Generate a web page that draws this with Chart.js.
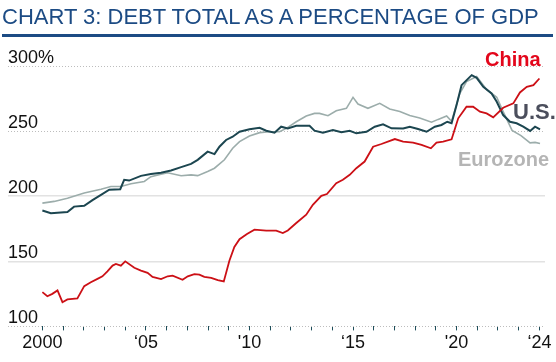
<!DOCTYPE html>
<html>
<head>
<meta charset="utf-8">
<script src="https://cdn.jsdelivr.net/npm/chart.js@4"></script>
<style>
  body { margin: 0; background: #fff; }
  #wrap { position: relative; width: 556px; height: 362px; font-family: "Liberation Sans", Arial, sans-serif; }
  #title { position: absolute; left: 2px; top: 6px; font-size: 22px; line-height: 22px; color: #1c4b84; white-space: nowrap; }
  #rule { position: absolute; left: 2px; top: 34px; width: 551px; height: 3px; background: #1c4b84; }
  canvas { position: absolute; left: 0; top: 0; }
  .lbl { position: absolute; font-weight: bold; white-space: nowrap; }
</style>
</head>
<body>
<div id="wrap">
  <canvas id="debtChart" width="556" height="362"></canvas>
  <div id="title">CHART 3: DEBT TOTAL AS A PERCENTAGE OF GDP</div>
  <div id="rule"></div>
  <div class="lbl" style="left:485px; top:49px; font-size:20px; line-height:20px; color:#e3061b;">China</div>
  <div class="lbl" style="left:513px; top:101px; font-size:22px; line-height:22px; color:#4b4e5c;">U.S.</div>
  <div class="lbl" style="left:458px; top:149px; font-size:20px; line-height:20px; color:#b5b5b5;">Eurozone</div>
</div>
<script>
// debt as % of GDP
const chinaYears = [2000, 2000.24, 2000.48, 2000.73, 2000.97, 2001.21, 2001.69, 2002.02, 2002.34, 2002.66,
  2002.9, 2003.14, 2003.39, 2003.55, 2003.79, 2004, 2004.44, 2004.76, 2005.08, 2005.32,
  2005.73, 2006.05, 2006.29, 2006.77, 2007.02, 2007.34, 2007.58, 2007.82, 2008.15, 2008.47,
  2008.76, 2009.03, 2009.27, 2009.52, 2009.88, 2010.24, 2010.81, 2011.29, 2011.61, 2011.85,
  2012.26, 2012.74, 2013.06, 2013.47, 2013.74, 2014.19, 2014.51, 2014.84, 2015.16, 2015.56,
  2015.97, 2016.37, 2017.02, 2017.42, 2017.9, 2018.31, 2018.76, 2019.03, 2019.35, 2019.76,
  2020.08, 2020.48, 2020.8, 2021.13, 2021.45, 2021.77, 2022.25, 2022.74, 2023.06, 2023.39,
  2023.71, 2024];
const chinaDebt = [126.3, 123.2, 125, 127.6, 118.6, 120.7, 121.5, 130.9, 133.9, 136.5,
  138.5, 142.3, 146.7, 148, 146.7, 150, 145, 142.9, 141.1, 138,
  136.3, 138.5, 139, 135.8, 138.5, 140.2, 139.8, 138, 137.3, 135.5,
  134.5, 150.5, 161, 167, 171, 174.3, 173.6, 173.5, 171.7, 173.7,
  179.4, 185.8, 193.4, 200.3, 201.7, 210, 212.6, 216.4, 221.5, 226.6,
  238, 240.1, 243.9, 241.9, 241.1, 239.4, 236.8, 241.1, 241.9, 243.7,
  259.8, 268.7, 268.7, 264.9, 263.6, 260.6, 267.9, 271.3, 279.7, 284,
  285.3, 290.4];

const usYears = [2000, 2000.41, 2001.21, 2001.53, 2002.02, 2002.42, 2002.83, 2003.23, 2003.76, 2003.95,
  2004.19, 2004.76, 2005.24, 2005.73, 2006.21, 2006.7, 2007.18, 2007.5, 2007.98, 2008.31,
  2008.55, 2008.87, 2009.19, 2009.52, 2010, 2010.49, 2010.81, 2011.21, 2011.53, 2011.85,
  2012.26, 2012.9, 2013.14, 2013.55, 2014.03, 2014.44, 2014.84, 2015.16, 2015.65, 2016.05,
  2016.45, 2016.86, 2017.42, 2017.74, 2018.14, 2018.55, 2018.95, 2019.27, 2019.55, 2019.76,
  2020, 2020.24, 2020.73, 2020.97, 2021.29, 2021.69, 2021.94, 2022.25, 2022.58, 2022.9,
  2023.22, 2023.55, 2023.79, 2024.03];
const usDebt = [189, 187, 187.8, 192, 192.6, 197, 201, 205, 205.4, 212.6,
  212, 215.6, 217, 218, 219.7, 222.3, 224.8, 227.9, 234.2, 232.3,
  238, 243.2, 245.7, 249.5, 251.4, 252.6, 250.3, 248.8, 253.4, 252.1,
  254.1, 254.1, 250.3, 248.8, 250.8, 249.1, 250.3, 248.3, 249.5, 253.4,
  255.2, 252.1, 252, 253.4, 251.6, 249.5, 253.4, 254.7, 257.2, 256,
  270, 285.3, 293, 290.9, 284, 278.9, 272.5, 262.3, 257.2, 256,
  253.4, 250.1, 253.4, 251.4];

const euroYears = [2000, 2000.57, 2001.21, 2002.02, 2002.83, 2003.31, 2003.79, 2004.28, 2004.92, 2005.24,
  2005.73, 2006.05, 2006.7, 2007.18, 2007.5, 2007.98, 2008.31, 2008.79, 2009.19, 2009.52,
  2010, 2010.49, 2010.97, 2011.45, 2011.78, 2012.26, 2012.74, 2013.14, 2013.38, 2013.79,
  2014.19, 2014.68, 2015, 2015.24, 2015.72, 2016.29, 2016.77, 2017.26, 2017.74, 2018.22,
  2018.79, 2019.11, 2019.52, 2019.76, 2020.16, 2020.48, 2020.97, 2021.45, 2021.94, 2022.25,
  2022.68, 2023.11, 2023.55, 2023.79, 2024.03];
const euroDebt = [194.7, 196, 198.5, 202.4, 205.4, 207.4, 207.4, 209.5, 211.3, 215,
  216.8, 218, 215.7, 216.4, 215.8, 219, 221.5, 228, 236.8, 241.9,
  246.2, 248.8, 249.5, 249.5, 252.1, 257.2, 261.6, 263.6, 263.6, 261.8,
  265.6, 267.5, 275.9, 270.8, 267.5, 271.3, 267, 265, 262, 260,
  256.8, 259, 261.6, 257.5, 279, 288, 292, 282, 276, 265,
  250.5, 246.5, 241, 241.3, 240.5];

// axis ticks
const tickYears = [2000, 2001, 2002, 2003, 2004, 2005, 2006, 2007, 2008, 2009, 2010, 2011, 2012,
  2013, 2014, 2015, 2016, 2017, 2018, 2019, 2020, 2021, 2022, 2023, 2024];
const labelYears = [2000, 2005, 2010, 2015, 2020, 2024];
const labelText = ["2000", "\u201805", "'10", "\u201815", "'20", "\u201824"];
const yTicks = [100, 150, 200, 250, 300];
const yTickText = ["100", "150", "200", "250", "300%"];
const dottedLines = [100, 250, 300];

const FONT = '"Liberation Sans", Arial, sans-serif';

function toPoints(xs, ys) {
  return xs.map((x, i) => ({ x: x, y: ys[i] }));
}

new Chart(document.getElementById("debtChart").getContext("2d"), {
  type: "line",
  data: {
    datasets: [
      { label: "China", data: toPoints(chinaYears, chinaDebt), borderColor: "#cc1016", borderWidth: 1.8 },
      { label: "U.S.", data: toPoints(usYears, usDebt), borderColor: "#1c4650", borderWidth: 2 },
      { label: "Eurozone", data: toPoints(euroYears, euroDebt), borderColor: "#9cadab", borderWidth: 1.6 },
    ],
  },
  options: {
    responsive: false,
    animation: false,
    elements: { point: { radius: 0 }, line: { tension: 0 } },
    layout: { padding: { top: 66, left: 8, right: 11, bottom: 6 } },
    plugins: { legend: { display: false }, tooltip: { enabled: false } },
    scales: {
      x: {
        type: "linear",
        min: 1998.34,
        max: 2024.27,
        afterBuildTicks: (scale) => {
          scale.ticks = tickYears.map((v) => ({ value: v }));
        },
        grid: { drawOnChartArea: false, drawTicks: true, tickLength: 4, tickColor: "#1e4d5a", tickWidth: 1 },
        border: { display: false },
        ticks: {
          autoSkip: false,
          maxRotation: 0,
          padding: 2,
          color: "#111",
          font: { size: 18, family: FONT },
          callback: (v) => {
            const i = labelYears.indexOf(v);
            return i >= 0 ? labelText[i] : "";
          },
        },
      },
      y: {
        min: 100,
        max: 300,
        afterBuildTicks: (scale) => {
          scale.ticks = yTicks.map((v) => ({ value: v }));
        },
        grid: {
          drawTicks: false,
          color: (c) => (dottedLines.includes(c.tick.value) ? "#bdbdbd" : "#e2e2e2"),
          lineWidth: (c) => (dottedLines.includes(c.tick.value) ? 1 : 1.5),
        },
        border: {
          display: false,
          dash: (c) => (dottedLines.includes(c.tick.value) ? [1, 2] : []),
        },
        ticks: {
          mirror: true,
          padding: 0,
          labelOffset: -8,
          color: "#111",
          font: { size: 18, family: FONT },
          callback: (v) => yTickText[yTicks.indexOf(v)],
        },
      },
    },
  },
});
</script>
</body>
</html>
